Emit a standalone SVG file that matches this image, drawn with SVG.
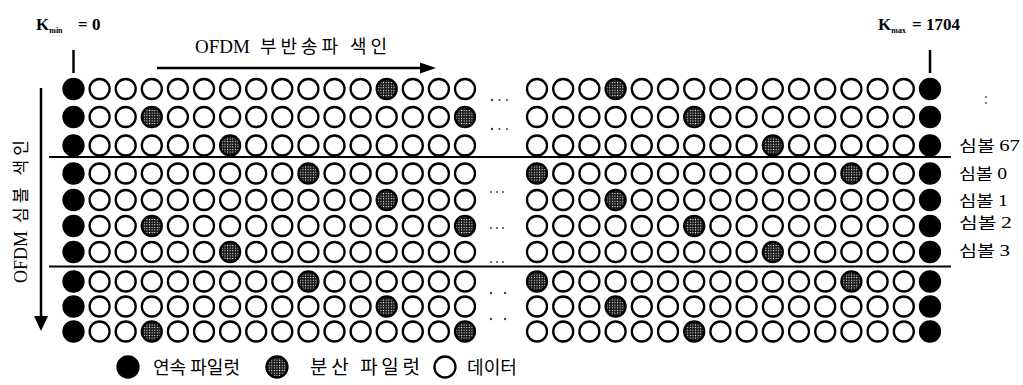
<svg xmlns="http://www.w3.org/2000/svg" width="1023" height="385" viewBox="0 0 1023 385">
<style>
.k{fill:#000;stroke:#000;stroke-width:2.3}
.s{fill:url(#st);stroke:#000;stroke-width:2.3}
.w{fill:#fff;stroke:#000;stroke-width:2.3}
.ln{stroke:#000;fill:none}
.dot{fill:#444}
.lat{font-family:"Liberation Serif","Noto Sans CJK KR",serif;fill:#000}
.kr{font-family:"Noto Sans CJK KR","Liberation Serif",sans-serif;fill:#000}
</style>
<defs>
<pattern id="st" width="2.6" height="2.6" patternUnits="userSpaceOnUse"><rect width="2.6" height="2.6" fill="#111"/><rect x="0.8" y="0.8" width="1.1" height="1.1" fill="#fff"/></pattern>
</defs>
<rect width="1023" height="385" fill="#fff"/>

<g id="labels">
<text class="lat" x="36" y="30" font-size="17" font-weight="bold">K<tspan font-size="8" dy="3">min</tspan><tspan x="78" dy="-3">= 0</tspan></text>
<text class="lat" x="878" y="30" font-size="17" font-weight="bold">K<tspan font-size="8" dy="3">max</tspan><tspan x="912" dy="-3">= 1704</tspan></text>
<text class="lat" x="195" y="53" font-size="19">OFDM</text>
<text class="kr" x="260" y="53" font-size="18" textLength="127" lengthAdjust="spacing">부반송파 색인</text>
<text class="lat" transform="translate(27,283) rotate(-90)" font-size="18">OFDM</text>
<text class="kr" transform="translate(27,223) rotate(-90)" font-size="17" textLength="83" lengthAdjust="spacing">심볼 색인</text>
<text class="kr" x="959" y="151" font-size="15" textLength="61" lengthAdjust="spacingAndGlyphs">심볼 <tspan class="lat" font-size="16">67</tspan></text>
<text class="kr" x="959" y="179" font-size="15" textLength="48" lengthAdjust="spacingAndGlyphs">심볼 <tspan class="lat" font-size="16">0</tspan></text>
<text class="kr" x="959" y="205.5" font-size="15" textLength="49" lengthAdjust="spacingAndGlyphs">심볼 <tspan class="lat" font-size="16">1</tspan></text>
<text class="kr" x="959" y="228" font-size="15" textLength="53" lengthAdjust="spacingAndGlyphs">심볼 <tspan class="lat" font-size="16">2</tspan></text>
<text class="kr" x="959" y="256" font-size="15" textLength="51" lengthAdjust="spacingAndGlyphs">심볼 <tspan class="lat" font-size="16">3</tspan></text>
</g>

<g id="connectors">
<line class="ln" x1="73.5" y1="50" x2="73.5" y2="73" stroke-width="2.5"/>
<line class="ln" x1="930" y1="50" x2="930" y2="73" stroke-width="2.5"/>
<line class="ln" x1="157" y1="68" x2="422" y2="68" stroke-width="2.5"/>
<polygon points="420,62.5 436,68 420,73.5" fill="#000"/>
<line class="ln" x1="41" y1="88" x2="41" y2="318" stroke-width="2.5"/>
<polygon points="34,316 48,316 41,331" fill="#000"/>
<line class="ln" x1="49" y1="157" x2="951" y2="157" stroke-width="2.2"/>
<line class="ln" x1="49" y1="266.5" x2="951" y2="266.5" stroke-width="2.2"/>
</g>

<g id="ellipses">
<circle class="dot" cx="492" cy="100" r="1.2"/><circle class="dot" cx="499.5" cy="100" r="1"/><circle class="dot" cx="507" cy="100" r="1"/>
<circle class="dot" cx="492" cy="129" r="1.2"/><circle class="dot" cx="499.5" cy="129" r="1"/><circle class="dot" cx="507" cy="129" r="1"/>
<circle class="dot" cx="491" cy="192" r="1"/><circle class="dot" cx="497" cy="192" r="1"/><circle class="dot" cx="503" cy="192" r="1"/>
<circle class="dot" cx="491" cy="228" r="1"/><circle class="dot" cx="497" cy="228" r="1"/><circle class="dot" cx="503" cy="228" r="1"/>
<circle class="dot" cx="491" cy="262" r="1"/><circle class="dot" cx="497" cy="262" r="1"/><circle class="dot" cx="503" cy="262" r="1"/>
<circle class="dot" cx="491" cy="293" r="1.2"/><circle class="dot" cx="505" cy="293" r="1.2"/>
<circle class="dot" cx="491" cy="319" r="1.2"/><circle class="dot" cx="505" cy="319" r="1.2"/>
<circle class="dot" cx="986" cy="97" r="0.9"/><circle class="dot" cx="986" cy="103" r="0.9"/>
</g>

<g id="row1" transform="translate(0,89)">
<circle class="k" cx="73.5" r="10"/><circle class="w" cx="99.6" r="10"/><circle class="w" cx="125.7" r="10"/><circle class="w" cx="151.8" r="10"/><circle class="w" cx="177.9" r="10"/><circle class="w" cx="204" r="10"/><circle class="w" cx="230.1" r="10"/><circle class="w" cx="256.2" r="10"/><circle class="w" cx="282.3" r="10"/><circle class="w" cx="308.4" r="10"/><circle class="w" cx="334.5" r="10"/><circle class="w" cx="360.6" r="10"/><circle class="s" cx="386.7" r="10"/><circle class="w" cx="412.8" r="10"/><circle class="w" cx="438.9" r="10"/><circle class="w" cx="465" r="10"/>
<circle class="w" cx="537" r="10"/><circle class="w" cx="563.2" r="10"/><circle class="w" cx="589.4" r="10"/><circle class="s" cx="615.6" r="10"/><circle class="w" cx="641.8" r="10"/><circle class="w" cx="668" r="10"/><circle class="w" cx="694.2" r="10"/><circle class="w" cx="720.4" r="10"/><circle class="w" cx="746.6" r="10"/><circle class="w" cx="772.8" r="10"/><circle class="w" cx="799" r="10"/><circle class="w" cx="825.2" r="10"/><circle class="w" cx="851.4" r="10"/><circle class="w" cx="877.6" r="10"/><circle class="w" cx="903.8" r="10"/><circle class="k" cx="930" r="10"/>
</g>
<g id="row2" transform="translate(0,117)">
<circle class="k" cx="73.5" r="10"/><circle class="w" cx="99.6" r="10"/><circle class="w" cx="125.7" r="10"/><circle class="s" cx="151.8" r="10"/><circle class="w" cx="177.9" r="10"/><circle class="w" cx="204" r="10"/><circle class="w" cx="230.1" r="10"/><circle class="w" cx="256.2" r="10"/><circle class="w" cx="282.3" r="10"/><circle class="w" cx="308.4" r="10"/><circle class="w" cx="334.5" r="10"/><circle class="w" cx="360.6" r="10"/><circle class="w" cx="386.7" r="10"/><circle class="w" cx="412.8" r="10"/><circle class="w" cx="438.9" r="10"/><circle class="s" cx="465" r="10"/>
<circle class="w" cx="537" r="10"/><circle class="w" cx="563.2" r="10"/><circle class="w" cx="589.4" r="10"/><circle class="w" cx="615.6" r="10"/><circle class="w" cx="641.8" r="10"/><circle class="w" cx="668" r="10"/><circle class="s" cx="694.2" r="10"/><circle class="w" cx="720.4" r="10"/><circle class="w" cx="746.6" r="10"/><circle class="w" cx="772.8" r="10"/><circle class="w" cx="799" r="10"/><circle class="w" cx="825.2" r="10"/><circle class="w" cx="851.4" r="10"/><circle class="w" cx="877.6" r="10"/><circle class="w" cx="903.8" r="10"/><circle class="k" cx="930" r="10"/>
</g>
<g id="row3" transform="translate(0,145.5)">
<circle class="k" cx="73.5" r="10"/><circle class="w" cx="99.6" r="10"/><circle class="w" cx="125.7" r="10"/><circle class="w" cx="151.8" r="10"/><circle class="w" cx="177.9" r="10"/><circle class="w" cx="204" r="10"/><circle class="s" cx="230.1" r="10"/><circle class="w" cx="256.2" r="10"/><circle class="w" cx="282.3" r="10"/><circle class="w" cx="308.4" r="10"/><circle class="w" cx="334.5" r="10"/><circle class="w" cx="360.6" r="10"/><circle class="w" cx="386.7" r="10"/><circle class="w" cx="412.8" r="10"/><circle class="w" cx="438.9" r="10"/><circle class="w" cx="465" r="10"/>
<circle class="w" cx="537" r="10"/><circle class="w" cx="563.2" r="10"/><circle class="w" cx="589.4" r="10"/><circle class="w" cx="615.6" r="10"/><circle class="w" cx="641.8" r="10"/><circle class="w" cx="668" r="10"/><circle class="w" cx="694.2" r="10"/><circle class="w" cx="720.4" r="10"/><circle class="w" cx="746.6" r="10"/><circle class="s" cx="772.8" r="10"/><circle class="w" cx="799" r="10"/><circle class="w" cx="825.2" r="10"/><circle class="w" cx="851.4" r="10"/><circle class="w" cx="877.6" r="10"/><circle class="w" cx="903.8" r="10"/><circle class="k" cx="930" r="10"/>
</g>
<g id="row4" transform="translate(0,173.5)">
<circle class="k" cx="73.5" r="10"/><circle class="w" cx="99.6" r="10"/><circle class="w" cx="125.7" r="10"/><circle class="w" cx="151.8" r="10"/><circle class="w" cx="177.9" r="10"/><circle class="w" cx="204" r="10"/><circle class="w" cx="230.1" r="10"/><circle class="w" cx="256.2" r="10"/><circle class="w" cx="282.3" r="10"/><circle class="s" cx="308.4" r="10"/><circle class="w" cx="334.5" r="10"/><circle class="w" cx="360.6" r="10"/><circle class="w" cx="386.7" r="10"/><circle class="w" cx="412.8" r="10"/><circle class="w" cx="438.9" r="10"/><circle class="w" cx="465" r="10"/>
<circle class="s" cx="537" r="10"/><circle class="w" cx="563.2" r="10"/><circle class="w" cx="589.4" r="10"/><circle class="w" cx="615.6" r="10"/><circle class="w" cx="641.8" r="10"/><circle class="w" cx="668" r="10"/><circle class="w" cx="694.2" r="10"/><circle class="w" cx="720.4" r="10"/><circle class="w" cx="746.6" r="10"/><circle class="w" cx="772.8" r="10"/><circle class="w" cx="799" r="10"/><circle class="w" cx="825.2" r="10"/><circle class="s" cx="851.4" r="10"/><circle class="w" cx="877.6" r="10"/><circle class="w" cx="903.8" r="10"/><circle class="k" cx="930" r="10"/>
</g>
<g id="row5" transform="translate(0,200)">
<circle class="k" cx="73.5" r="10"/><circle class="w" cx="99.6" r="10"/><circle class="w" cx="125.7" r="10"/><circle class="w" cx="151.8" r="10"/><circle class="w" cx="177.9" r="10"/><circle class="w" cx="204" r="10"/><circle class="w" cx="230.1" r="10"/><circle class="w" cx="256.2" r="10"/><circle class="w" cx="282.3" r="10"/><circle class="w" cx="308.4" r="10"/><circle class="w" cx="334.5" r="10"/><circle class="w" cx="360.6" r="10"/><circle class="s" cx="386.7" r="10"/><circle class="w" cx="412.8" r="10"/><circle class="w" cx="438.9" r="10"/><circle class="w" cx="465" r="10"/>
<circle class="w" cx="537" r="10"/><circle class="w" cx="563.2" r="10"/><circle class="w" cx="589.4" r="10"/><circle class="s" cx="615.6" r="10"/><circle class="w" cx="641.8" r="10"/><circle class="w" cx="668" r="10"/><circle class="w" cx="694.2" r="10"/><circle class="w" cx="720.4" r="10"/><circle class="w" cx="746.6" r="10"/><circle class="w" cx="772.8" r="10"/><circle class="w" cx="799" r="10"/><circle class="w" cx="825.2" r="10"/><circle class="w" cx="851.4" r="10"/><circle class="w" cx="877.6" r="10"/><circle class="w" cx="903.8" r="10"/><circle class="k" cx="930" r="10"/>
</g>
<g id="row6" transform="translate(0,226)">
<circle class="k" cx="73.5" r="10"/><circle class="w" cx="99.6" r="10"/><circle class="w" cx="125.7" r="10"/><circle class="s" cx="151.8" r="10"/><circle class="w" cx="177.9" r="10"/><circle class="w" cx="204" r="10"/><circle class="w" cx="230.1" r="10"/><circle class="w" cx="256.2" r="10"/><circle class="w" cx="282.3" r="10"/><circle class="w" cx="308.4" r="10"/><circle class="w" cx="334.5" r="10"/><circle class="w" cx="360.6" r="10"/><circle class="w" cx="386.7" r="10"/><circle class="w" cx="412.8" r="10"/><circle class="w" cx="438.9" r="10"/><circle class="s" cx="465" r="10"/>
<circle class="w" cx="537" r="10"/><circle class="w" cx="563.2" r="10"/><circle class="w" cx="589.4" r="10"/><circle class="w" cx="615.6" r="10"/><circle class="w" cx="641.8" r="10"/><circle class="w" cx="668" r="10"/><circle class="s" cx="694.2" r="10"/><circle class="w" cx="720.4" r="10"/><circle class="w" cx="746.6" r="10"/><circle class="w" cx="772.8" r="10"/><circle class="w" cx="799" r="10"/><circle class="w" cx="825.2" r="10"/><circle class="w" cx="851.4" r="10"/><circle class="w" cx="877.6" r="10"/><circle class="w" cx="903.8" r="10"/><circle class="k" cx="930" r="10"/>
</g>
<g id="row7" transform="translate(0,252)">
<circle class="k" cx="73.5" r="10"/><circle class="w" cx="99.6" r="10"/><circle class="w" cx="125.7" r="10"/><circle class="w" cx="151.8" r="10"/><circle class="w" cx="177.9" r="10"/><circle class="w" cx="204" r="10"/><circle class="s" cx="230.1" r="10"/><circle class="w" cx="256.2" r="10"/><circle class="w" cx="282.3" r="10"/><circle class="w" cx="308.4" r="10"/><circle class="w" cx="334.5" r="10"/><circle class="w" cx="360.6" r="10"/><circle class="w" cx="386.7" r="10"/><circle class="w" cx="412.8" r="10"/><circle class="w" cx="438.9" r="10"/><circle class="w" cx="465" r="10"/>
<circle class="w" cx="537" r="10"/><circle class="w" cx="563.2" r="10"/><circle class="w" cx="589.4" r="10"/><circle class="w" cx="615.6" r="10"/><circle class="w" cx="641.8" r="10"/><circle class="w" cx="668" r="10"/><circle class="w" cx="694.2" r="10"/><circle class="w" cx="720.4" r="10"/><circle class="w" cx="746.6" r="10"/><circle class="s" cx="772.8" r="10"/><circle class="w" cx="799" r="10"/><circle class="w" cx="825.2" r="10"/><circle class="w" cx="851.4" r="10"/><circle class="w" cx="877.6" r="10"/><circle class="w" cx="903.8" r="10"/><circle class="k" cx="930" r="10"/>
</g>
<g id="row8" transform="translate(0,281.5)">
<circle class="k" cx="73.5" r="10"/><circle class="w" cx="99.6" r="10"/><circle class="w" cx="125.7" r="10"/><circle class="w" cx="151.8" r="10"/><circle class="w" cx="177.9" r="10"/><circle class="w" cx="204" r="10"/><circle class="w" cx="230.1" r="10"/><circle class="w" cx="256.2" r="10"/><circle class="w" cx="282.3" r="10"/><circle class="s" cx="308.4" r="10"/><circle class="w" cx="334.5" r="10"/><circle class="w" cx="360.6" r="10"/><circle class="w" cx="386.7" r="10"/><circle class="w" cx="412.8" r="10"/><circle class="w" cx="438.9" r="10"/><circle class="w" cx="465" r="10"/>
<circle class="s" cx="537" r="10"/><circle class="w" cx="563.2" r="10"/><circle class="w" cx="589.4" r="10"/><circle class="w" cx="615.6" r="10"/><circle class="w" cx="641.8" r="10"/><circle class="w" cx="668" r="10"/><circle class="w" cx="694.2" r="10"/><circle class="w" cx="720.4" r="10"/><circle class="w" cx="746.6" r="10"/><circle class="w" cx="772.8" r="10"/><circle class="w" cx="799" r="10"/><circle class="w" cx="825.2" r="10"/><circle class="s" cx="851.4" r="10"/><circle class="w" cx="877.6" r="10"/><circle class="w" cx="903.8" r="10"/><circle class="k" cx="930" r="10"/>
</g>
<g id="row9" transform="translate(0,306.5)">
<circle class="k" cx="73.5" r="10"/><circle class="w" cx="99.6" r="10"/><circle class="w" cx="125.7" r="10"/><circle class="w" cx="151.8" r="10"/><circle class="w" cx="177.9" r="10"/><circle class="w" cx="204" r="10"/><circle class="w" cx="230.1" r="10"/><circle class="w" cx="256.2" r="10"/><circle class="w" cx="282.3" r="10"/><circle class="w" cx="308.4" r="10"/><circle class="w" cx="334.5" r="10"/><circle class="w" cx="360.6" r="10"/><circle class="s" cx="386.7" r="10"/><circle class="w" cx="412.8" r="10"/><circle class="w" cx="438.9" r="10"/><circle class="w" cx="465" r="10"/>
<circle class="w" cx="537" r="10"/><circle class="w" cx="563.2" r="10"/><circle class="w" cx="589.4" r="10"/><circle class="s" cx="615.6" r="10"/><circle class="w" cx="641.8" r="10"/><circle class="w" cx="668" r="10"/><circle class="w" cx="694.2" r="10"/><circle class="w" cx="720.4" r="10"/><circle class="w" cx="746.6" r="10"/><circle class="w" cx="772.8" r="10"/><circle class="w" cx="799" r="10"/><circle class="w" cx="825.2" r="10"/><circle class="w" cx="851.4" r="10"/><circle class="w" cx="877.6" r="10"/><circle class="w" cx="903.8" r="10"/><circle class="k" cx="930" r="10"/>
</g>
<g id="row10" transform="translate(0,331.5)">
<circle class="k" cx="73.5" r="10"/><circle class="w" cx="99.6" r="10"/><circle class="w" cx="125.7" r="10"/><circle class="s" cx="151.8" r="10"/><circle class="w" cx="177.9" r="10"/><circle class="w" cx="204" r="10"/><circle class="w" cx="230.1" r="10"/><circle class="w" cx="256.2" r="10"/><circle class="w" cx="282.3" r="10"/><circle class="w" cx="308.4" r="10"/><circle class="w" cx="334.5" r="10"/><circle class="w" cx="360.6" r="10"/><circle class="w" cx="386.7" r="10"/><circle class="w" cx="412.8" r="10"/><circle class="w" cx="438.9" r="10"/><circle class="s" cx="465" r="10"/>
<circle class="w" cx="537" r="10"/><circle class="w" cx="563.2" r="10"/><circle class="w" cx="589.4" r="10"/><circle class="w" cx="615.6" r="10"/><circle class="w" cx="641.8" r="10"/><circle class="w" cx="668" r="10"/><circle class="s" cx="694.2" r="10"/><circle class="w" cx="720.4" r="10"/><circle class="w" cx="746.6" r="10"/><circle class="w" cx="772.8" r="10"/><circle class="w" cx="799" r="10"/><circle class="w" cx="825.2" r="10"/><circle class="w" cx="851.4" r="10"/><circle class="w" cx="877.6" r="10"/><circle class="w" cx="903.8" r="10"/><circle class="k" cx="930" r="10"/>
</g>

<g id="legend">
<circle class="k" cx="128" cy="367" r="10.5"/>
<text class="kr" x="153" y="374" font-size="18" textLength="87" lengthAdjust="spacingAndGlyphs">연속 파일럿</text>
<circle class="s" cx="277" cy="367" r="10.5"/>
<text class="kr" x="310" y="374" font-size="19" textLength="110" lengthAdjust="spacing">분산 파일럿</text>
<circle class="w" cx="445" cy="367" r="10.5"/>
<text class="kr" x="467" y="374" font-size="18" textLength="50" lengthAdjust="spacingAndGlyphs">데이터</text>
</g>
</svg>
